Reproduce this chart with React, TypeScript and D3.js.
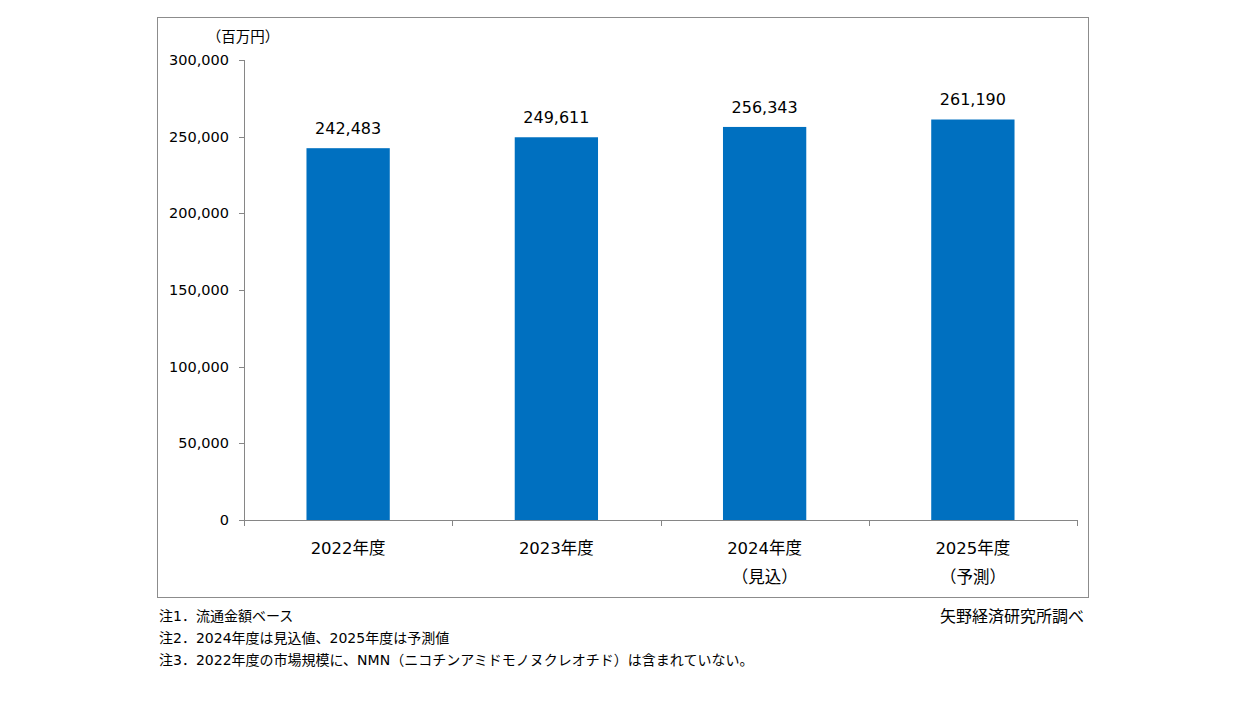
import React, { useEffect, useRef } from 'react';
import * as d3 from 'd3';

const categories = ['2022年度', '2023年度', '2024年度', '2025年度'];
const subLabels = ['', '', '（見込）', '（予測）'];
const values = [242483, 249611, 256343, 261190];
const yTicks = [0, 50000, 100000, 150000, 200000, 250000, 300000];
const unitLabel = '（百万円）';
const notes = [
  '注1．流通金額ベース',
  '注2．2024年度は見込値、2025年度は予測値',
  '注3．2022年度の市場規模に、NMN（ニコチンアミドモノヌクレオチド）は含まれていない。',
];
const source = '矢野経済研究所調べ';

const FONT = "'DejaVu Sans', 'Noto Sans CJK JP', sans-serif";

export default function App() {
  const ref = useRef<SVGSVGElement>(null);

  useEffect(() => {
    const svg = d3.select(ref.current);
    svg.selectAll('*').remove();

    const left = 244;
    const right = 1077;
    const top = 60;
    const bottom = 520;

    // outer frame
    svg.append('rect')
      .attr('x', 157.5).attr('y', 17.5)
      .attr('width', 931).attr('height', 580)
      .attr('fill', '#fff')
      .attr('stroke', '#8c8c8c')
      .attr('stroke-width', 1);

    const x = d3.scaleBand().domain(categories).range([left, right]).paddingInner(0.6).paddingOuter(0.3);
    const xb = d3.scaleBand().domain(categories).range([left, right]);
    const y = d3.scaleLinear().domain([0, 300000]).range([bottom, top]);

    const g = svg.append('g').attr('font-family', FONT).attr('fill', '#000');

    // y axis
    g.append('line')
      .attr('x1', left + 0.5).attr('x2', left + 0.5)
      .attr('y1', y(300000)).attr('y2', bottom)
      .attr('stroke', '#868686');
    yTicks.forEach(t => {
      g.append('line')
        .attr('x1', left - 5).attr('x2', left)
        .attr('y1', Math.round(y(t)) + 0.5).attr('y2', Math.round(y(t)) + 0.5)
        .attr('stroke', '#868686');
      g.append('text')
        .attr('x', 229).attr('y', y(t))
        .attr('dy', '0.35em')
        .attr('text-anchor', 'end')
        .attr('font-size', 14.5)
        .text(d3.format(',')(t));
    });

    g.append('text')
      .attr('x', 243).attr('y', 37)
      .attr('dy', '0.35em')
      .attr('text-anchor', 'middle')
      .attr('font-size', 14.5)
      .text(unitLabel);

    // x axis with ticks at category boundaries
    g.append('line')
      .attr('x1', left).attr('x2', right)
      .attr('y1', bottom + 0.5).attr('y2', bottom + 0.5)
      .attr('stroke', '#868686');
    const bounds = categories.map(c => xb(c) as number).concat([right]);
    bounds.forEach(bx => {
      g.append('line')
        .attr('x1', Math.round(bx) + 0.5).attr('x2', Math.round(bx) + 0.5)
        .attr('y1', bottom).attr('y2', bottom + 6)
        .attr('stroke', '#868686');
    });

    // bars
    g.selectAll('.bar')
      .data(values)
      .enter().append('rect')
      .attr('class', 'bar')
      .attr('x', (d, i) => x(categories[i]) as number)
      .attr('width', x.bandwidth())
      .attr('y', d => y(d))
      .attr('height', d => bottom - y(d))
      .attr('fill', '#0070C0');

    // value labels
    g.selectAll('.val')
      .data(values)
      .enter().append('text')
      .attr('class', 'val')
      .attr('x', (d, i) => (xb(categories[i]) as number) + xb.bandwidth() / 2)
      .attr('y', d => y(d) - 20)
      .attr('dy', '0.35em')
      .attr('text-anchor', 'middle')
      .attr('font-size', 16)
      .text(d => d3.format(',')(d));

    // category labels
    categories.forEach((c, i) => {
      const cx = (xb(c) as number) + xb.bandwidth() / 2;
      g.append('text')
        .attr('x', cx).attr('y', 548)
        .attr('dy', '0.35em')
        .attr('text-anchor', 'middle')
        .attr('font-size', 16.5)
        .text(c);
      if (subLabels[i]) {
        g.append('text')
          .attr('x', cx).attr('y', 577)
          .attr('dy', '0.35em')
          .attr('text-anchor', 'middle')
          .attr('font-size', 16.5)
          .text(subLabels[i]);
      }
    });

    // notes
    notes.forEach((n, i) => {
      g.append('text')
        .attr('x', 159).attr('y', 616 + i * 22)
        .attr('dy', '0.35em')
        .attr('font-size', 14)
        .text(n);
    });
    g.append('text')
      .attr('x', 1084).attr('y', 616)
      .attr('dy', '0.35em')
      .attr('text-anchor', 'end')
      .attr('font-size', 16)
      .text(source);
  }, []);

  return (
    <svg ref={ref} width={1248} height={702}
      style={{ position: 'absolute', left: 0, top: 0, background: '#fff' }} />
  );
}
